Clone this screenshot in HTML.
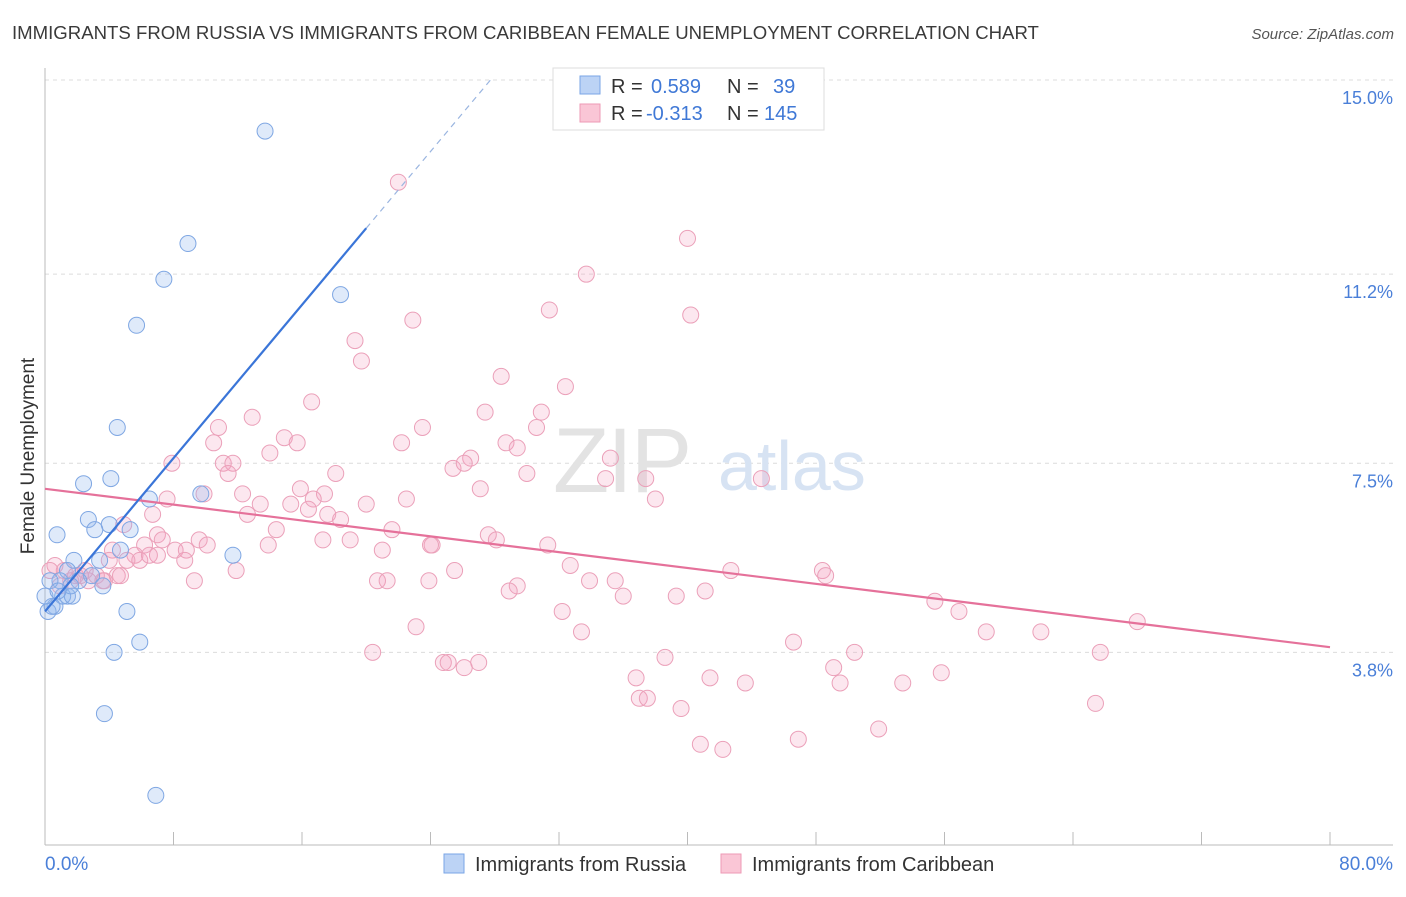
<!DOCTYPE html>
<html><head><meta charset="utf-8"><style>
body{margin:0;background:#fff;font-family:"Liberation Sans",sans-serif}
svg text{font-family:"Liberation Sans",sans-serif}
</style></head><body>
<svg id="chart" width="1406" height="892" viewBox="0 0 1406 892" xmlns="http://www.w3.org/2000/svg">
<text x="12" y="39" font-size="18.6" fill="#3a3a3a">IMMIGRANTS FROM RUSSIA VS IMMIGRANTS FROM CARIBBEAN FEMALE UNEMPLOYMENT CORRELATION CHART</text>
<text x="1394" y="39" font-size="15" fill="#555" text-anchor="end" font-style="italic">Source: ZipAtlas.com</text>
<g id="grid"></g>
<text x="553" y="492" font-size="92" fill="#e3e3e3" font-family="Liberation Serif" letter-spacing="-2">ZIP</text>
<text x="718" y="490" font-size="70" fill="#d7e3f3">atlas</text>
<g id="pts"></g>
<g id="lines"></g>
<text transform="translate(34,456) rotate(-90)" font-size="19" fill="#333" text-anchor="middle">Female Unemployment</text>
<text x="45" y="870" font-size="19" fill="#4a7fd8">0.0%</text>
<text x="1393" y="870" font-size="19" fill="#4a7fd8" text-anchor="end">80.0%</text>
<g>
<rect x="553" y="68" width="271" height="62" fill="#fff" stroke="#ddd"/>
<rect x="580" y="76" width="20" height="18" fill="#bcd3f5" stroke="#7aa6e6"/>
<rect x="580" y="104" width="20" height="18" fill="#fac6d6" stroke="#ee9ab5"/>
<text x="611" y="93" font-size="20" fill="#333">R = <tspan x="651" fill="#3f78d6">0.589</tspan><tspan x="727">N = </tspan><tspan x="773" fill="#3f78d6">39</tspan></text>
<text x="611" y="120" font-size="20" fill="#333">R = <tspan x="646" fill="#3f78d6">-0.313</tspan><tspan x="727">N = </tspan><tspan x="764" fill="#3f78d6">145</tspan></text>
</g>
<g>
<rect x="444" y="854" width="20" height="19" fill="#bcd3f5" stroke="#7aa6e6"/>
<text x="475" y="871" font-size="20" fill="#333">Immigrants from Russia</text>
<rect x="721" y="854" width="20" height="19" fill="#fac6d6" stroke="#ee9ab5"/>
<text x="752" y="871" font-size="20" fill="#333">Immigrants from Caribbean</text>
</g>
</svg>
<script>
const yTicks=[3.8,7.5,11.2,15.0];
const yTickLabels=["3.8%","7.5%","11.2%","15.0%"];
const xTicks=[0,8,16,24,32,40,48,56,64,72,80];
const russiaX=[13.7,8.9,7.4,5.7,18.4,4.5,4.1,2.4,9.7,6.5,2.7,4.0,3.1,0.75,5.3,11.7,4.7,3.4,1.8,1.4,2.9,0.93,2.1,0.31,1.4,0.62,1.1,1.7,3.6,5.1,5.9,4.3,3.7,6.9,0.19,0.44,1.6,0.0,0.81];
const russiaY=[14.0,11.8,11.1,10.2,10.8,8.2,7.2,7.1,6.9,6.8,6.4,6.3,6.2,6.1,6.2,5.7,5.8,5.6,5.6,5.4,5.3,5.2,5.2,5.2,4.9,4.7,4.9,4.9,5.1,4.6,4.0,3.8,2.6,1.0,4.6,4.7,5.1,4.9,5.0];
const caribX=[22.0,40.0,33.7,40.2,31.4,22.9,19.3,19.7,28.4,32.4,16.6,27.4,30.9,12.9,10.8,23.5,30.6,14.9,10.5,15.7,22.2,28.7,29.4,14.0,11.1,26.5,35.2,11.7,7.9,25.4,26.1,18.1,30.0,34.9,37.4,44.6,11.4,27.1,12.3,15.9,9.9,7.6,16.7,17.4,22.5,38.0,20.0,13.4,15.3,12.6,16.4,17.6,18.4,6.7,4.9,21.6,14.4,27.6,7.0,9.6,28.1,7.3,17.3,24.1,24.0,31.3,13.9,19.0,21.0,10.1,8.1,8.8,6.2,4.2,5.6,8.7,5.1,32.7,42.7,25.5,48.4,48.6,11.9,4.5,20.7,21.3,23.9,33.9,35.5,29.4,28.9,9.3,36.0,39.3,41.1,55.4,56.9,32.2,68.0,23.1,33.4,58.6,62.0,46.6,50.4,38.6,65.7,20.4,24.8,26.1,25.1,27.0,36.8,49.1,43.6,41.4,55.8,49.5,53.4,37.0,37.5,39.6,65.4,51.9,46.9,40.8,42.2,0.62,1.2,2.7,3.7,3.2,1.9,3.6,2.2,0.31,5.9,7.0,4.0,2.5,1.6,0.93,4.7,6.5];
const caribY=[13.0,11.9,11.2,10.4,10.5,10.3,9.9,9.5,9.2,9.0,8.7,8.5,8.5,8.4,8.2,8.2,8.2,8.0,7.9,7.9,7.9,7.9,7.8,7.7,7.5,7.6,7.6,7.5,7.5,7.4,7.5,7.3,7.3,7.2,7.2,7.2,7.3,7.0,6.9,7.0,6.9,6.8,6.8,6.9,6.8,6.8,6.7,6.7,6.7,6.5,6.6,6.5,6.4,6.5,6.3,6.2,6.2,6.1,6.1,6.0,6.0,6.0,6.0,5.9,5.9,5.9,5.9,6.0,5.8,5.9,5.8,5.8,5.9,5.8,5.7,5.6,5.6,5.5,5.4,5.4,5.4,5.3,5.4,5.3,5.2,5.2,5.2,5.2,5.2,5.1,5.0,5.2,4.9,4.9,5.0,4.8,4.6,4.6,4.4,4.3,4.2,4.2,4.2,4.0,3.8,3.7,3.8,3.8,3.6,3.5,3.6,3.6,3.3,3.5,3.2,3.3,3.4,3.2,3.2,2.9,2.9,2.7,2.8,2.3,2.1,2.0,1.9,5.5,5.4,5.2,5.2,5.3,5.3,5.2,5.3,5.4,5.6,5.7,5.6,5.4,5.2,5.1,5.3,5.7];
const russiaTrend=[0,4.6,20,12.1];
const caribTrend=[0,7.0,80,3.9];
const X0=45,X1=1330,Y0=80,YS=51.1;
const sx=v=>X0+(X1-X0)*v/80, sy=v=>Y0+(15-v)*YS;
const NS="http://www.w3.org/2000/svg";
function mk(t,a,p){const e=document.createElementNS(NS,t);for(const k in a)e.setAttribute(k,a[k]);p.appendChild(e);return e;}
const grid=document.getElementById('grid');
yTicks.forEach((v,i)=>{
 const l=mk('line',{x1:45,x2:1393,y1:sy(v),y2:sy(v),stroke:'#dcdcdc','stroke-dasharray':'4,4'},grid);
 
 
 const t=mk('text',{x:1393,y:sy(v)+24,'font-size':18,fill:'#4a7fd8','text-anchor':'end'},grid);
 t.textContent=yTickLabels[i];
 
 
});
const ax=mk('line',{x1:45,x2:45,y1:68,y2:845,stroke:'#bbb'},grid);


const bx=mk('line',{x1:45,x2:1393,y1:845,y2:845,stroke:'#bbb'},grid);


xTicks.forEach(v=>{
 const t=mk('line',{x1:sx(v),x2:sx(v),y1:832,y2:845,stroke:'#bbb'},grid);
 
 
});
const pts=document.getElementById('pts');
caribX.forEach((x,i)=>{
 const c=mk('circle',{cx:sx(x),cy:sy(caribY[i]),r:8,fill:'rgba(245,160,190,0.25)',stroke:'#eba0b9','stroke-width':1},pts);
 
 
});
russiaX.forEach((x,i)=>{
 const c=mk('circle',{cx:sx(x),cy:sy(russiaY[i]),r:8,fill:'rgba(150,185,240,0.3)',stroke:'#7fa7e3','stroke-width':1},pts);
 
 
});
const lines=document.getElementById('lines');
const cl=mk('line',{x1:sx(caribTrend[0]),y1:sy(caribTrend[1]),x2:sx(caribTrend[2]),y2:sy(caribTrend[3]),stroke:'#e5719a','stroke-width':2.2},lines);


const slope=(russiaTrend[3]-russiaTrend[1])/(russiaTrend[2]-russiaTrend[0]);
const rl=mk('line',{x1:sx(russiaTrend[0]),y1:sy(russiaTrend[1]),x2:sx(russiaTrend[2]),y2:sy(russiaTrend[3]),stroke:'#3a75d8','stroke-width':2.2},lines);


const xe=russiaTrend[0]+(15-russiaTrend[1])/slope;
const rd=mk('line',{x1:sx(russiaTrend[2]),y1:sy(russiaTrend[3]),x2:sx(xe),y2:sy(15),stroke:'#9ab5e0','stroke-width':1.2,'stroke-dasharray':'6,5'},lines);


</script>
</body></html>
